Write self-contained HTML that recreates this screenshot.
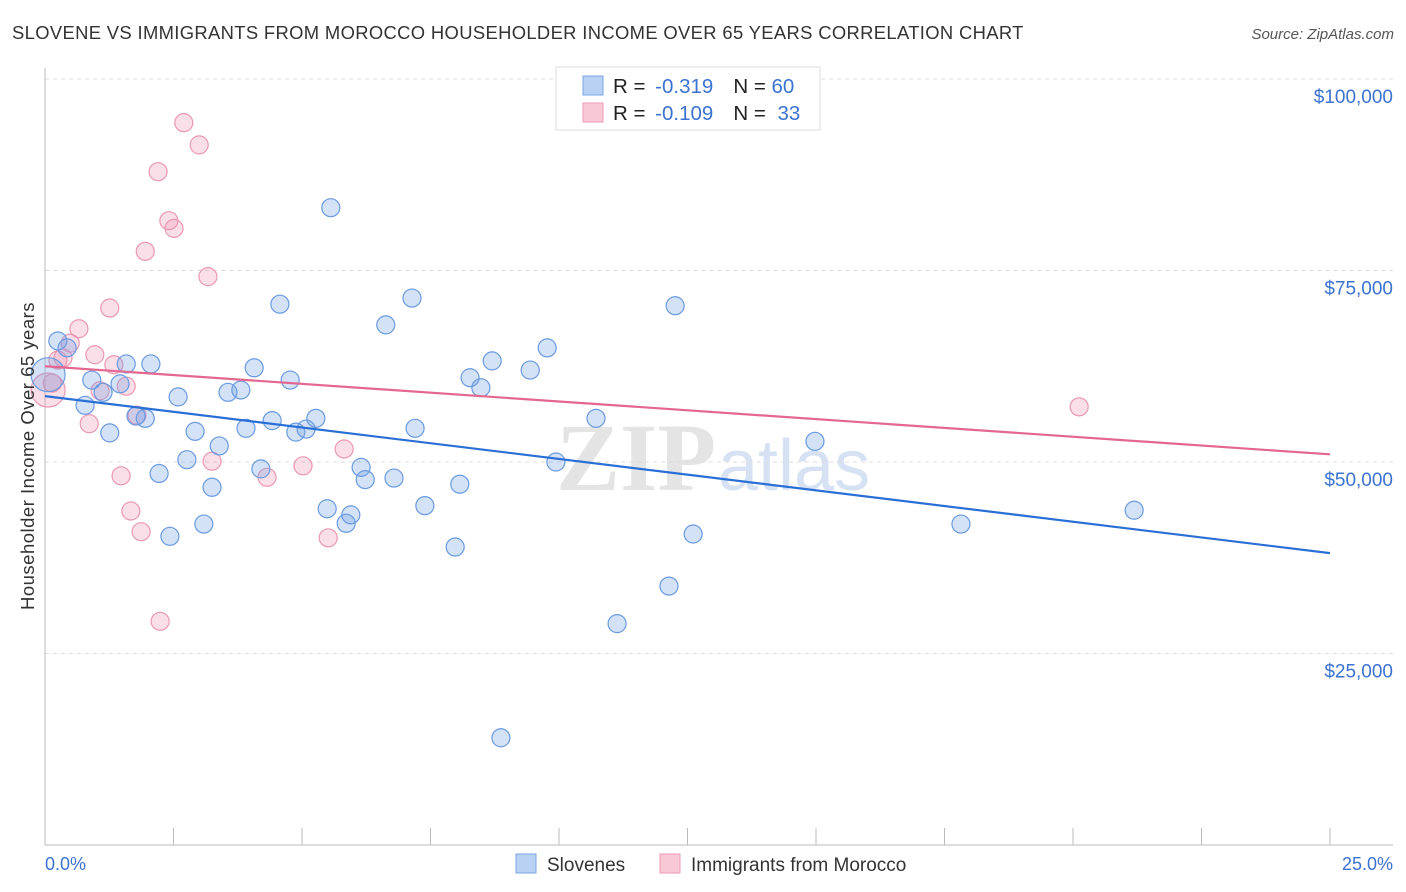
<!DOCTYPE html>
<html><head><meta charset="utf-8"><style>
body{margin:0;background:#fff;font-family:"Liberation Sans",sans-serif;}
svg{display:block}
</style></head><body>
<svg id="chart" width="1406" height="892" xmlns="http://www.w3.org/2000/svg">
<text x="12" y="39" font-size="18.4" letter-spacing="0.35" fill="#333">SLOVENE VS IMMIGRANTS FROM MOROCCO HOUSEHOLDER INCOME OVER 65 YEARS CORRELATION CHART</text>
<text x="1394" y="39" font-size="15" fill="#555" font-style="italic" text-anchor="end">Source: ZipAtlas.com</text>
<text x="716" y="490" font-size="96" fill="#e4e4e4" text-anchor="end" font-weight="bold" font-family="Liberation Serif">ZIP</text>
<text x="718" y="490" font-size="72" fill="#d6e2f3">atlas</text>
<g id="grid"></g>
<g id="axes"></g>
<g id="marks"></g>
<text transform="translate(34,456) rotate(-90)" font-size="18.5" letter-spacing="0.5" fill="#333" text-anchor="middle">Householder Income Over 65 years</text>
<text x="45" y="870" font-size="18" fill="#3b73d1">0.0%</text>
<text x="1393" y="870" font-size="18" fill="#3b73d1" text-anchor="end">25.0%</text>
<g>
<rect x="556" y="67" width="264" height="63" fill="#fff" stroke="#ddd"/>
<rect x="583" y="76" width="20" height="19" fill="#b9d2f3" stroke="#7aa6e6"/>
<rect x="583" y="103" width="20" height="19" fill="#f9c8d6" stroke="#ef9ab5"/>
<text x="613" y="93" font-size="20.5" fill="#222">R = <tspan dx="4" fill="#3b73d1">-0.319</tspan><tspan dx="20">N = </tspan><tspan fill="#3b73d1">60</tspan></text>
<text x="613" y="120" font-size="20.5" fill="#222">R = <tspan dx="4" fill="#3b73d1">-0.109</tspan><tspan dx="20">N = </tspan><tspan dx="6" fill="#3b73d1">33</tspan></text>
</g>
<g>
<rect x="516" y="854" width="20" height="19" fill="#b9d2f3" stroke="#7aa6e6"/>
<text x="547" y="871" font-size="19" fill="#333">Slovenes</text>
<rect x="660" y="854" width="20" height="19" fill="#f9c8d6" stroke="#ef9ab5"/>
<text x="691" y="871" font-size="19" fill="#333">Immigrants from Morocco</text>
</g>
</svg>
<script>
const yTicks=[25000,50000,75000,100000];
const yTickLabels=["$25,000","$50,000","$75,000","$100,000"];
const xTicks=[0,2.5,5,7.5,10,12.5,15,17.5,20,22.5,25];
const sloveneX=[0.25,0.43,0.91,1.13,0.78,1.26,1.46,1.58,1.77,1.95,2.06,2.22,2.43,2.59,2.76,2.92,3.09,3.25,3.39,3.56,3.81,3.91,4.07,4.20,4.42,4.57,4.77,4.88,5.08,5.27,5.49,5.56,5.86,5.95,6.15,6.23,6.63,6.79,7.14,7.20,7.39,7.98,8.07,8.27,8.48,8.70,8.87,9.44,9.77,9.94,10.72,11.13,12.14,12.26,12.61,14.98,17.82,21.19,0.06];
const sloveneY=[65800,64900,60700,59100,57400,53800,60200,62800,56000,55700,62800,48500,40300,58500,50300,54000,41900,46700,52100,59100,59400,54400,62300,49100,55400,70600,60700,53900,54300,55700,43900,83200,42000,43100,49300,47700,67900,47900,71400,54400,44300,38900,47100,61000,59700,63200,14000,62000,64900,50000,55700,28900,33800,70400,40600,52700,41900,43700,61400];
const moroccoX=[0.06,0.14,0.25,0.35,0.49,0.66,0.86,0.97,1.07,1.26,1.34,1.48,1.58,1.67,1.79,1.87,1.95,2.20,2.24,2.41,2.51,2.70,3.00,3.17,3.25,4.32,5.02,5.51,5.82,20.12];
const moroccoY=[59400,60300,63300,63600,65500,67400,55000,64000,59300,70100,62700,48200,59900,43600,56100,40900,77500,87900,29200,81500,80500,94300,91400,74200,50100,48000,49500,40100,51700,57200];
const sloveneTrend=[58600,38100];
const moroccoTrend=[62500,51000];
const NS="http://www.w3.org/2000/svg";
const X0=45,X1=1330,Y0=845,PPY=191.5/25000;
function sx(v){return X0+(v/25)*(X1-X0);}
function sy(v){return Y0-v*PPY;}
function mk(tag,attrs,parent){const e=document.createElementNS(NS,tag);for(const k in attrs)e.setAttribute(k,attrs[k]);parent.appendChild(e);return e;}
const grid=document.getElementById('grid'),axes=document.getElementById('axes'),marks=document.getElementById('marks');
yTicks.forEach((t,i)=>{
 const l=mk('line',{x1:X0,x2:1393,y1:sy(t),y2:sy(t),stroke:'#ddd','stroke-dasharray':'4,4'},grid);
 
 
 const tx=mk('text',{x:1393,y:sy(t)+24,'font-size':19,fill:'#3b73d1','text-anchor':'end'},grid);
 tx.textContent=yTickLabels[i];
 
 
});
const ax=mk('line',{x1:X0,x2:X0,y1:68,y2:Y0,stroke:'#bbb'},axes);


const bx=mk('line',{x1:X0,x2:1393,y1:Y0,y2:Y0,stroke:'#bbb'},axes);


xTicks.forEach(t=>{
 const l=mk('line',{x1:sx(t),x2:sx(t),y1:828,y2:Y0,stroke:'#bbb'},axes);
 
 
});
function pts(xs,ys,fill,stroke,name){
 xs.forEach((x,i)=>{
  const big=(x<0.1);
  const c=mk('circle',{cx:sx(x),cy:sy(ys[i]),r:big?17:9,fill:fill,stroke:stroke,'stroke-width':1.2},marks);
  
  
 });
}
pts(moroccoX,moroccoY,'rgba(240,150,180,0.3)','#eb98b2','morocco-point');
pts(sloveneX,sloveneY,'rgba(110,160,230,0.3)','#6a9ae0','slovene-point');
const tl1=mk('line',{x1:sx(0),x2:sx(25),y1:sy(sloveneTrend[0]),y2:sy(sloveneTrend[1]),stroke:'#2a6fd6','stroke-width':2.2},marks);


const tl2=mk('line',{x1:sx(0),x2:sx(25),y1:sy(moroccoTrend[0]),y2:sy(moroccoTrend[1]),stroke:'#e4678f','stroke-width':2.2},marks);


</script>
</body></html>
